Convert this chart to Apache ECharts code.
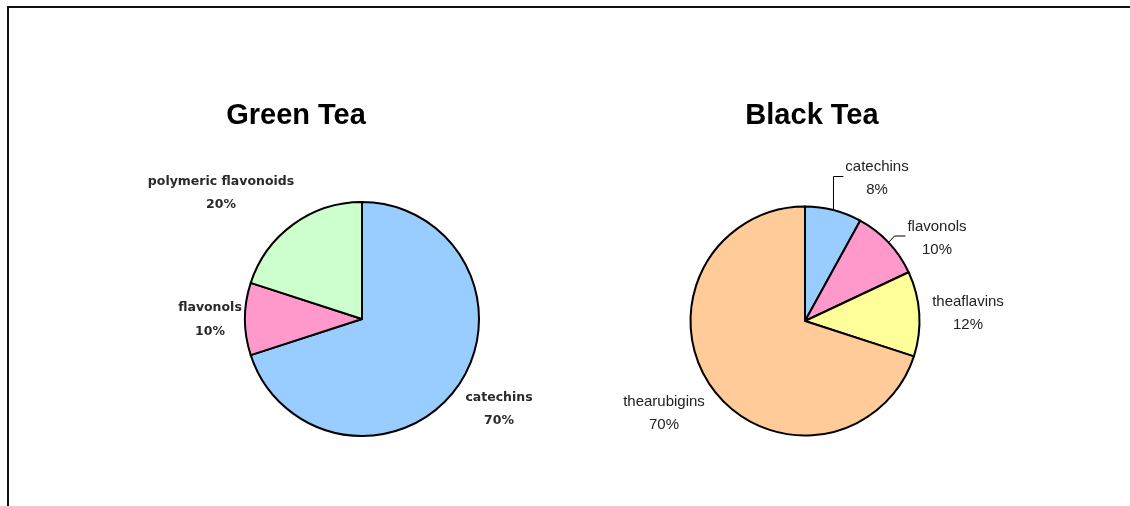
<!DOCTYPE html>
<html>
<head>
<meta charset="utf-8">
<script src="https://cdn.jsdelivr.net/npm/echarts@6/dist/echarts.min.js"></script>
<style>
  html, body { margin: 0; padding: 0; background: #fff; }
  #chart { width: 1130px; height: 506px; }
  #frame { position: absolute; left: 7px; top: 6px; right: -10px; bottom: -10px;
           border-left: 2px solid #111; border-top: 2px solid #111; pointer-events: none; }
</style>
</head>
<body>
<div id="chart"></div>
<div id="frame"></div>
<script>
const greenTitle = 'Green Tea';
const greenCategories = ['catechins', 'flavonols', 'polymeric flavonoids'];
const greenValues = [70, 10, 20];
const greenColors = ['#99CCFF', '#FF99CC', '#CCFFCC'];

const blackTitle = 'Black Tea';
const blackCategories = ['catechins', 'flavonols', 'theaflavins', 'thearubigins'];
const blackValues = [8, 10, 12, 70];
const blackColors = ['#99CCFF', '#FF99CC', '#FFFF99', '#FFCC99'];
const blackWithLines = ['catechins', 'flavonols'];

// label block centres (text placement)
const greenLabelPos = [[499, 409], [210, 319.5], [221, 193]];
const blackLabelPos = [[877, 178.5], [937, 238], [968, 313.5], [664, 413.5]];

const chart = echarts.init(document.getElementById('chart'), null, { renderer: 'canvas' });

const option = {
  animation: false,
  backgroundColor: '#fff',
  title: [
    { text: greenTitle, left: 296, top: 99, textAlign: 'center', padding: 0,
      textStyle: { fontFamily: 'Liberation Sans, Arial', fontWeight: 'bold', fontSize: 29, color: '#000', lineHeight: 34 } },
    { text: blackTitle, left: 812, top: 99, textAlign: 'center', padding: 0,
      textStyle: { fontFamily: 'Liberation Sans, Arial', fontWeight: 'bold', fontSize: 29, color: '#000', lineHeight: 34 } }
  ],
  series: [
    {
      type: 'pie',
      center: [362, 319],
      radius: 117,
      startAngle: 90,
      clockwise: true,
      silent: true,
      itemStyle: { borderColor: '#000', borderWidth: 2 },
      label: {
        show: true, position: 'outside',
        formatter: '{b}\n{c}%',
        fontFamily: 'DejaVu Sans', fontWeight: 'bold', fontSize: 12.5, color: '#2a2a2a',
        lineHeight: 23.5, align: 'center'
      },
      labelLine: { show: false },
      labelLayout: function (p) {
        const pos = greenLabelPos[p.dataIndex];
        return { x: pos[0], y: pos[1], align: 'center', verticalAlign: 'middle' };
      },
      data: greenCategories.map((n, i) => ({ name: n, value: greenValues[i], itemStyle: { color: greenColors[i] } }))
    },
    {
      type: 'pie',
      center: [805, 321],
      radius: 114.5,
      startAngle: 90,
      clockwise: true,
      silent: true,
      itemStyle: { borderColor: '#000', borderWidth: 2 },
      label: {
        show: true, position: 'outside',
        formatter: '{b}\n{c}%',
        fontFamily: 'Liberation Sans, Arial', fontSize: 15, color: '#222',
        lineHeight: 23, align: 'center'
      },
      labelLine: { show: true, length: 20, length2: 8, lineStyle: { color: '#000', width: 1 } },
      labelLayout: function (p) {
        const pos = blackLabelPos[p.dataIndex];
        const res = { x: pos[0], y: pos[1], align: 'center', verticalAlign: 'middle' };
        const name = blackCategories[p.dataIndex];
        if (blackWithLines.indexOf(name) >= 0 && p.labelLinePoints) {
          const s = p.labelLinePoints[0];
          const ly = pos[1] - 2;
          const left = pos[0] - p.labelRect.width / 2 - 2;
          if (p.dataIndex === 0) {
            res.labelLinePoints = [[s[0], s[1]], [s[0], ly], [left, ly]];
          } else {
            res.labelLinePoints = [[s[0], s[1]], [s[0] + 6, ly], [left, ly]];
          }
        }
        return res;
      },
      data: blackCategories.map((n, i) => ({
        name: n, value: blackValues[i], itemStyle: { color: blackColors[i] },
        labelLine: { show: blackWithLines.indexOf(n) >= 0 }
      }))
    }
  ]
};
chart.setOption(option);
</script>
</body>
</html>
